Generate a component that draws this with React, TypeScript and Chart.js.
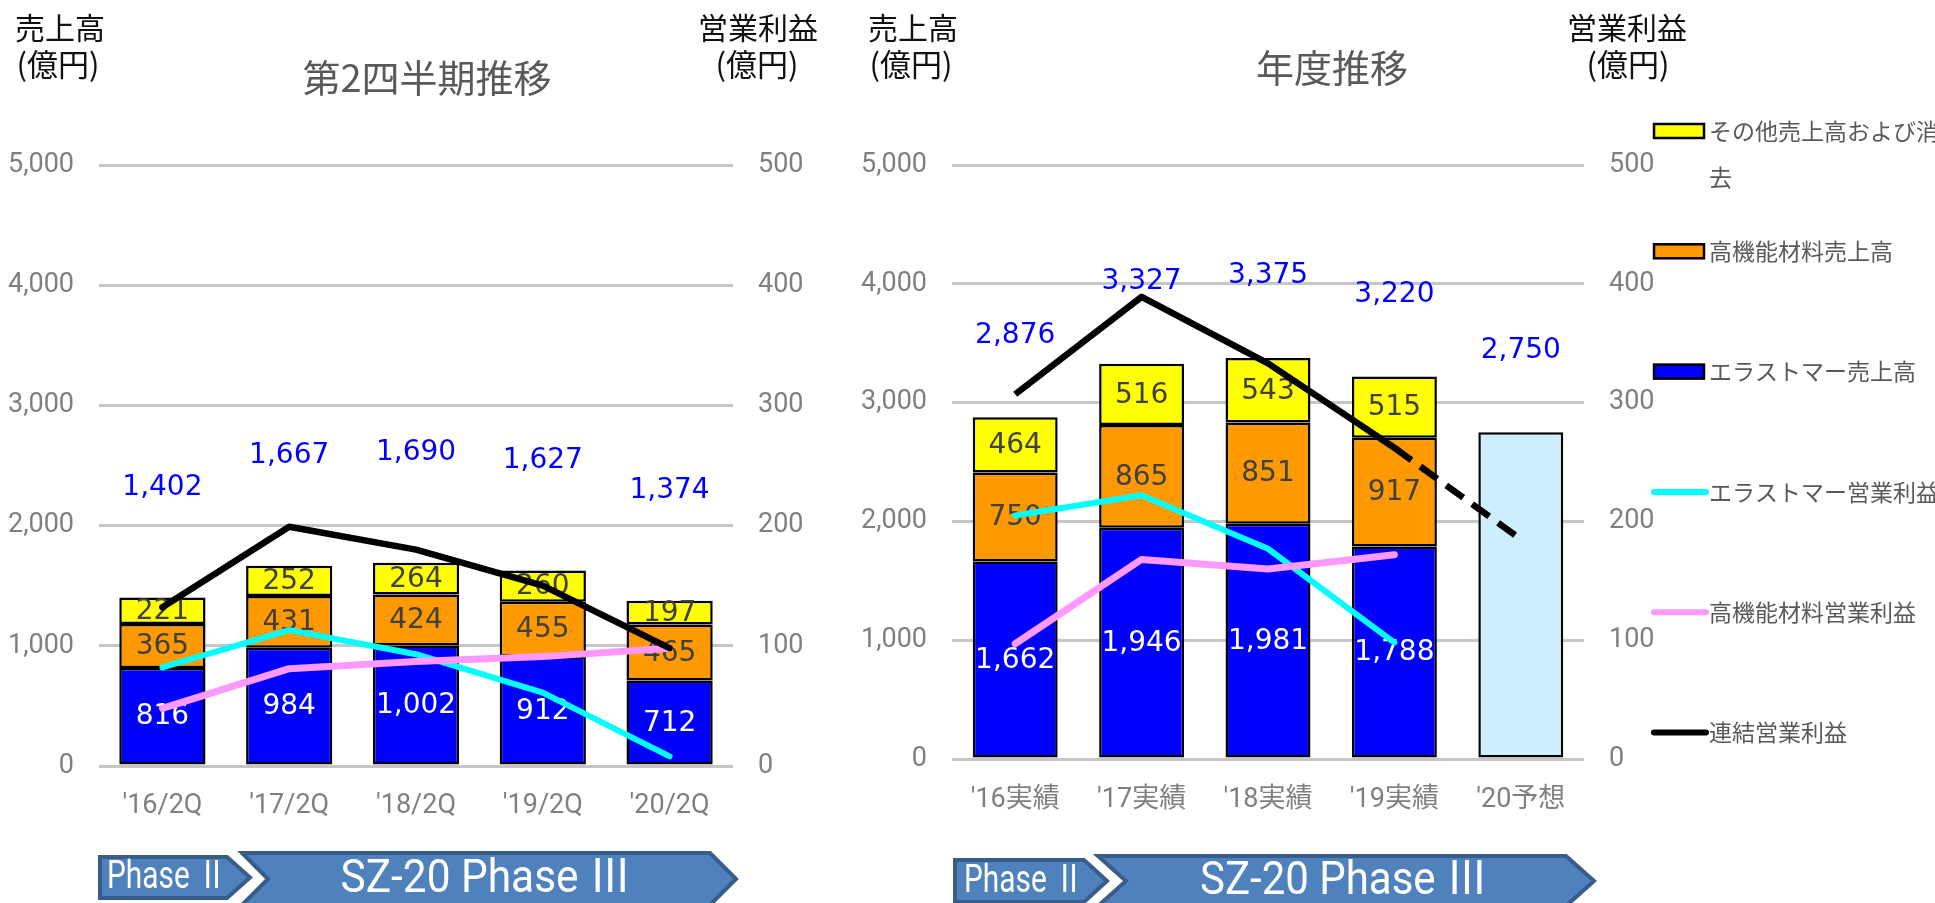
import React, { useEffect, useRef } from 'react';
import { Chart, registerables } from 'chart.js';

Chart.register(...registerables);

// ---------------- 第2四半期推移 (quarterly, 2Q) ----------------
const quarterCategories = ["'16/2Q", "'17/2Q", "'18/2Q", "'19/2Q", "'20/2Q"];
const quarterElastomerSales = [816, 984, 1002, 912, 712];
const quarterMaterialsSales = [365, 431, 424, 455, 465];
const quarterOtherSales = [221, 252, 264, 260, 197];
const quarterElastomerProfit = [82, 113, 93, 61, 8];
const quarterMaterialsProfit = [48, 81, 87, 91, 98];
const quarterConsolidatedProfit = [132, 199, 180, 150, 98];

// ---------------- 年度推移 (annual) ----------------
const annualCategories = ["'16実績", "'17実績", "'18実績", "'19実績", "'20予想"];
const annualElastomerSales = [1662, 1946, 1981, 1788, null];
const annualMaterialsSales = [750, 865, 851, 917, null];
const annualOtherSales = [464, 516, 543, 515, null];
const annualForecastSales = [null, null, null, null, 2750];
const annualElastomerProfit = [205, 222, 177, 98, null];
const annualMaterialsProfit = [97, 168, 160, 172, null];
const annualConsolidatedProfit = [307, 389, 333, 262, 185];

// ---------------- axis ticks ----------------
const salesTicks = [0, 1000, 2000, 3000, 4000, 5000];
const profitTicks = [0, 100, 200, 300, 400, 500];

// ---------------- series names ----------------
const NAME_OTHER = 'その他売上高および消去';
const NAME_MATERIALS = '高機能材料売上高';
const NAME_ELASTOMER = 'エラストマー売上高';
const NAME_ELASTOMER_PROFIT = 'エラストマー営業利益';
const NAME_MATERIALS_PROFIT = '高機能材料営業利益';
const NAME_CONSOLIDATED = '連結営業利益';
const NAME_FORECAST = '予想売上高';
const legendOrder = [NAME_OTHER, NAME_MATERIALS, NAME_ELASTOMER, NAME_ELASTOMER_PROFIT, NAME_MATERIALS_PROFIT, NAME_CONSOLIDATED];

const CJK = '"Noto Sans CJK JP", "Noto Sans", sans-serif';
const TICK_FAMILY = 'Roboto, "Noto Sans CJK JP", sans-serif';
const LABEL_FAMILY = '"DejaVu Sans", sans-serif';
const GRID = '#c6c6c6';
const TICK_COLOR = '#7f7f7f';

const fmt = (v: number) => Number(v).toLocaleString('en-US');

type TextSpec = { text: string; x: number; y: number; size: number; color: string };
type ArrowSpec = { kind: 'pentagon' | 'chevron'; x0: number; x1: number; y0: number; y1: number; tip: number; text: string; tx: number; ty: number; tw: number; size: number };
type LegendSpec = { x: number; y0: number; dy: number; boxW: number; boxH: number; textX: number; size: number; maxW: number; lineH: number };
type Decor = { texts: TextSpec[]; arrows: ArrowSpec[]; legend?: LegendSpec };

function arrowPath(ctx: CanvasRenderingContext2D, a: ArrowSpec) {
  const ym = (a.y0 + a.y1) / 2;
  ctx.beginPath();
  ctx.moveTo(a.x0, a.y0);
  ctx.lineTo(a.x1 - a.tip, a.y0);
  ctx.lineTo(a.x1, ym);
  ctx.lineTo(a.x1 - a.tip, a.y1);
  ctx.lineTo(a.x0, a.y1);
  if (a.kind === 'chevron') ctx.lineTo(a.x0 + a.tip, ym);
  ctx.closePath();
}

function wrapText(ctx: CanvasRenderingContext2D, text: string, maxW: number) {
  const lines: string[] = [];
  let cur = '';
  for (const ch of Array.from(text)) {
    if (cur && ctx.measureText(cur + ch).width > maxW) {
      lines.push(cur);
      cur = ch;
    } else cur += ch;
  }
  if (cur) lines.push(cur);
  return lines;
}

function makeDecorPlugin(d: Decor) {
  return {
    id: 'decor',
    afterDraw(chart: any) {
      const ctx = chart.ctx as CanvasRenderingContext2D;
      ctx.save();
      // phase arrows
      for (const a of d.arrows) {
        arrowPath(ctx, a);
        ctx.fillStyle = '#4f81bd';
        ctx.fill();
        ctx.lineWidth = 4;
        ctx.strokeStyle = '#385d8a';
        ctx.lineJoin = 'miter';
        ctx.stroke();
        ctx.font = `${a.size}px ${TICK_FAMILY}`;
        const w = ctx.measureText(a.text).width;
        const sx = Math.min(1, a.tw / w);
        ctx.save();
        ctx.translate(a.tx, a.ty);
        ctx.scale(sx, 1);
        ctx.fillStyle = '#ffffff';
        ctx.textAlign = 'center';
        ctx.textBaseline = 'middle';
        ctx.fillText(a.text, 0, 0);
        ctx.restore();
      }
      // titles
      for (const t of d.texts) {
        ctx.font = `${t.size}px ${CJK}`;
        ctx.fillStyle = t.color;
        ctx.textAlign = 'center';
        ctx.textBaseline = 'middle';
        ctx.fillText(t.text, t.x, t.y);
      }
      // legend
      if (d.legend) {
        const L = d.legend;
        legendOrder.forEach((name, i) => {
          const ds = chart.data.datasets.find((s: any) => s.label === name);
          if (!ds) return;
          const cy = L.y0 + i * L.dy;
          if (ds.type === 'bar') {
            ctx.fillStyle = ds.backgroundColor;
            ctx.fillRect(L.x, cy - L.boxH / 2, L.boxW, L.boxH);
            ctx.strokeStyle = '#000000';
            ctx.lineWidth = 2.5;
            ctx.strokeRect(L.x, cy - L.boxH / 2, L.boxW, L.boxH);
          } else {
            ctx.strokeStyle = ds.borderColor;
            ctx.lineWidth = 6;
            ctx.lineCap = 'round';
            ctx.beginPath();
            ctx.moveTo(L.x, cy);
            ctx.lineTo(L.x + L.boxW + 2, cy);
            ctx.stroke();
          }
          ctx.font = `${L.size}px ${CJK}`;
          ctx.fillStyle = '#595959';
          ctx.textAlign = 'left';
          ctx.textBaseline = 'middle';
          const lines = wrapText(ctx, name, L.maxW);
          lines.forEach((ln, k) => ctx.fillText(ln, L.textX, cy + k * L.lineH));
        });
      }
      ctx.restore();
    },
  };
}

function makeLabelPlugin(totalOffset: number) {
  return {
    id: 'barLabels',
    afterDatasetDraw(chart: any, args: any) {
      const ds = chart.data.datasets[args.index];
      if (!ds.segmentLabelColor) return;
      const ctx = chart.ctx as CanvasRenderingContext2D;
      ctx.save();
      ctx.font = `28px ${LABEL_FAMILY}`;
      ctx.fillStyle = ds.segmentLabelColor;
      ctx.textAlign = 'center';
      ctx.textBaseline = 'middle';
      args.meta.data.forEach((el: any, i: number) => {
        const v = ds.data[i];
        if (v == null) return;
        const p = el.getProps(['x', 'y', 'base'], true);
        ctx.fillText(fmt(v), p.x, (p.y + p.base) / 2 + 1);
      });
      ctx.restore();
    },
    afterDatasetsDraw(chart: any) {
      const ctx = chart.ctx as CanvasRenderingContext2D;
      const xs = chart.scales.x;
      const ys = chart.scales.y;
      const bars = chart.data.datasets.filter((d: any) => d.type === 'bar');
      ctx.save();
      ctx.font = `28px ${LABEL_FAMILY}`;
      ctx.fillStyle = '#0000ff';
      ctx.textAlign = 'center';
      ctx.textBaseline = 'middle';
      chart.data.labels.forEach((_: any, i: number) => {
        const total = bars.reduce((s: number, d: any) => s + (d.data[i] ?? 0), 0);
        if (!total) return;
        ctx.fillText(fmt(total), xs.getPixelForValue(i), ys.getPixelForValue(total) - totalOffset);
      });
      ctx.restore();
    },
  };
}

type Frame = { width: number; height: number; leftW: number; rightW: number; top: number; bottomH: number; xPad: number; barPct: number; totalOffset: number };

function buildConfig(
  categories: string[],
  elastomer: (number | null)[],
  materials: (number | null)[],
  other: (number | null)[],
  forecast: (number | null)[] | null,
  eProfit: (number | null)[],
  mProfit: (number | null)[],
  cProfit: (number | null)[],
  f: Frame,
  decor: Decor,
  dashLast: boolean
): any {
  const barBase = { type: 'bar', yAxisID: 'y', borderColor: '#000000', borderWidth: 2.5, borderSkipped: false, order: 4, barPercentage: f.barPct, categoryPercentage: 1 };
  const lineBase = { type: 'line', yAxisID: 'y1', pointRadius: 0, pointHoverRadius: 0, tension: 0, fill: false, borderJoinStyle: 'round', borderCapStyle: 'round' };
  const datasets: any[] = [
    { ...barBase, label: NAME_ELASTOMER, data: elastomer, backgroundColor: '#0000ff', segmentLabelColor: '#ffffff' },
    { ...barBase, label: NAME_MATERIALS, data: materials, backgroundColor: '#ff9900', segmentLabelColor: '#404040' },
    { ...barBase, label: NAME_OTHER, data: other, backgroundColor: '#ffff00', segmentLabelColor: '#404040' },
  ];
  if (forecast) datasets.push({ ...barBase, label: NAME_FORECAST, data: forecast, backgroundColor: '#cceeff' });
  datasets.push(
    { ...lineBase, label: NAME_ELASTOMER_PROFIT, data: eProfit, borderColor: '#00ffff', borderWidth: 6, order: 3 },
    { ...lineBase, label: NAME_MATERIALS_PROFIT, data: mProfit, borderColor: '#ff99ff', borderWidth: 7, order: 2 },
    {
      ...lineBase,
      label: NAME_CONSOLIDATED,
      data: cProfit,
      borderColor: '#000000',
      borderWidth: 6.5,
      order: 1,
      borderCapStyle: dashLast ? 'butt' : 'round',
      segment: dashLast ? { borderDash: (c: any) => (c.p1DataIndex === categories.length - 1 ? [21, 11] : undefined) } : undefined,
    }
  );

  const tickFont = { family: TICK_FAMILY, size: 27 };
  return {
    type: 'bar',
    data: { labels: categories, datasets },
    options: {
      responsive: false,
      animation: false,
      devicePixelRatio: 1,
      events: [],
      layout: { padding: { top: f.top, left: 0, right: 0, bottom: 0 } },
      plugins: { legend: { display: false }, tooltip: { enabled: false }, title: { display: false } },
      scales: {
        x: {
          type: 'category',
          stacked: true,
          grid: { display: false, drawTicks: false },
          border: { display: false },
          ticks: { color: TICK_COLOR, font: tickFont, padding: f.xPad, maxRotation: 0, autoSkip: false },
          afterFit: (s: any) => { s.height = f.bottomH; },
        },
        y: {
          type: 'linear',
          position: 'left',
          stacked: true,
          min: salesTicks[0],
          max: salesTicks[salesTicks.length - 1],
          afterBuildTicks: (s: any) => { s.ticks = salesTicks.map((value) => ({ value })); },
          grid: { color: GRID, lineWidth: 3, drawTicks: false },
          border: { display: false },
          ticks: { color: TICK_COLOR, font: tickFont, padding: 25, callback: (v: any) => fmt(v) },
          afterFit: (s: any) => { s.width = f.leftW; },
        },
        y1: {
          type: 'linear',
          position: 'right',
          min: profitTicks[0],
          max: profitTicks[profitTicks.length - 1],
          afterBuildTicks: (s: any) => { s.ticks = profitTicks.map((value) => ({ value })); },
          grid: { display: false, drawTicks: false },
          border: { display: false },
          ticks: { color: TICK_COLOR, font: tickFont, padding: 25, callback: (v: any) => fmt(v) },
          afterFit: (s: any) => { s.width = f.rightW; },
        },
      },
    },
    plugins: [makeLabelPlugin(f.totalOffset), makeDecorPlugin(decor)],
  };
}

const leftDecor: Decor = {
  texts: [
    { text: '売上高', x: 60, y: 28, size: 30, color: '#111111' },
    { text: '(億円)', x: 58, y: 64, size: 31, color: '#111111' },
    { text: '営業利益', x: 758, y: 28, size: 30, color: '#111111' },
    { text: '(億円)', x: 757, y: 64, size: 31, color: '#111111' },
    { text: '第2四半期推移', x: 427, y: 78, size: 38, color: '#595959' },
  ],
  arrows: [
    { kind: 'pentagon', x0: 100, x1: 250, y0: 857, y1: 898, tip: 23, text: 'Phase Ⅱ', tx: 167, ty: 878, tw: 120, size: 38 },
    { kind: 'chevron', x0: 242, x1: 736, y0: 853, y1: 905, tip: 26, text: 'SZ-20 Phase Ⅲ', tx: 486, ty: 880, tw: 291, size: 47 },
  ],
};

const rightDecor: Decor = {
  texts: [
    { text: '売上高', x: 63, y: 28, size: 30, color: '#111111' },
    { text: '(億円)', x: 61, y: 64, size: 31, color: '#111111' },
    { text: '営業利益', x: 777, y: 28, size: 30, color: '#111111' },
    { text: '(億円)', x: 778, y: 64, size: 31, color: '#111111' },
    { text: '年度推移', x: 482, y: 68, size: 38, color: '#595959' },
  ],
  arrows: [
    { kind: 'pentagon', x0: 105, x1: 257, y0: 860, y1: 902, tip: 23, text: 'Phase Ⅱ', tx: 174, ty: 882, tw: 120, size: 38 },
    { kind: 'chevron', x0: 248, x1: 744, y0: 856, y1: 906, tip: 28, text: 'SZ-20 Phase Ⅲ', tx: 494, ty: 882, tw: 288, size: 47 },
  ],
  legend: { x: 804, y0: 131, dy: 120.3, boxW: 50, boxH: 14, textX: 859, size: 23, maxW: 234, lineH: 46 },
};

export default function App() {
  const leftRef = useRef<HTMLCanvasElement>(null);
  const rightRef = useRef<HTMLCanvasElement>(null);

  useEffect(() => {
    const left = new Chart(
      leftRef.current as HTMLCanvasElement,
      buildConfig(
        quarterCategories,
        quarterElastomerSales,
        quarterMaterialsSales,
        quarterOtherSales,
        null,
        quarterElastomerProfit,
        quarterMaterialsProfit,
        quarterConsolidatedProfit,
        { width: 850, height: 903, leftW: 99, rightW: 117, top: 165, bottomH: 137, xPad: 24, barPct: 0.68, totalOffset: 110 },
        leftDecor,
        false
      )
    );
    const right = new Chart(
      rightRef.current as HTMLCanvasElement,
      buildConfig(
        annualCategories,
        annualElastomerSales,
        annualMaterialsSales,
        annualOtherSales,
        annualForecastSales,
        annualElastomerProfit,
        annualMaterialsProfit,
        annualConsolidatedProfit,
        { width: 1085, height: 903, leftW: 102, rightW: 351, top: 165, bottomH: 144, xPad: 25, barPct: 0.672, totalOffset: 82 },
        rightDecor,
        true
      )
    );
    return () => {
      left.destroy();
      right.destroy();
    };
  }, []);

  return (
    <div style={{ position: 'absolute', left: 0, top: 0, width: 1935, height: 903, background: '#ffffff', overflow: 'hidden' }}>
      <canvas ref={leftRef} width={850} height={903} style={{ position: 'absolute', left: 0, top: 0, width: 850, height: 903 }} />
      <canvas ref={rightRef} width={1085} height={903} style={{ position: 'absolute', left: 850, top: 0, width: 1085, height: 903 }} />
    </div>
  );
}
